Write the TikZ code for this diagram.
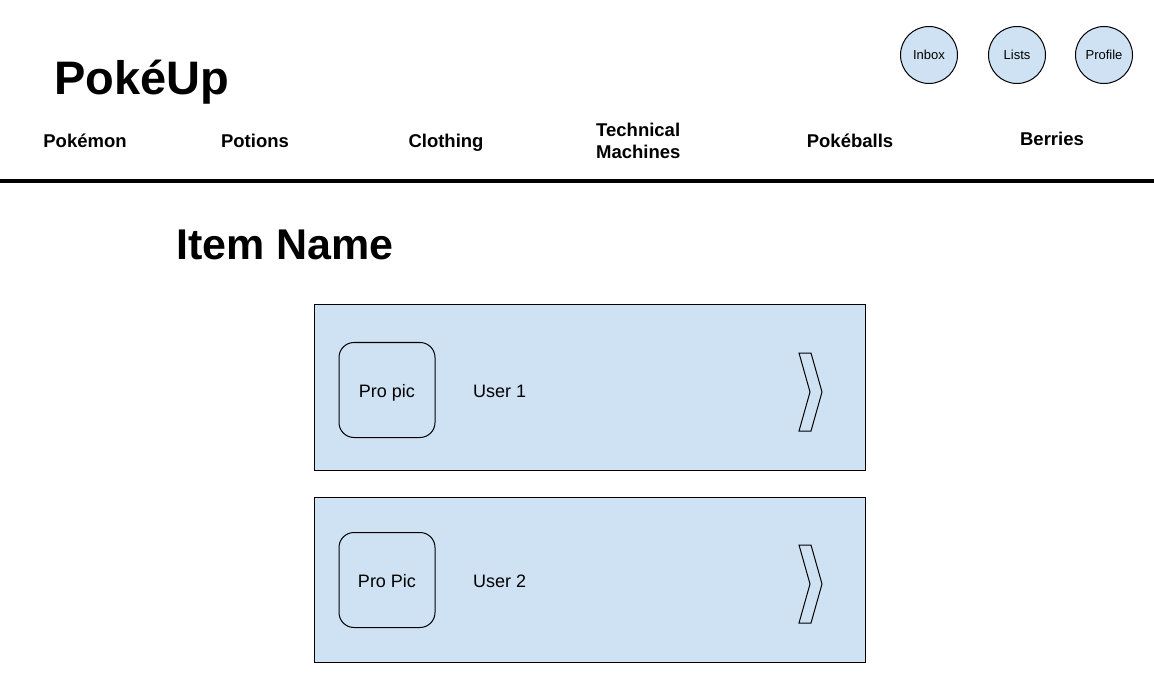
\documentclass[tikz,border=0pt]{standalone}
\usepackage{fontspec}
\setmainfont{Liberation Sans}
\definecolor{boxblue}{HTML}{CFE2F3}
\begin{document}
\begin{tikzpicture}[x=1pt,y=-1pt,
  nav/.style={font=\bfseries\fontsize{18.5}{22}\selectfont, inner sep=0pt, anchor=base},
  roundbtn/.style={circle, draw, fill=boxblue, line width=1pt, minimum size=57pt, inner sep=0pt, font=\fontsize{13}{15}\selectfont},
  card/.style={draw, fill=boxblue, line width=1pt, minimum width=551pt, minimum height=165pt, inner sep=0pt},
  picbox/.style={draw, fill=boxblue, line width=1pt, rounded corners=15pt, minimum width=96pt, minimum height=95pt, inner sep=0pt},
  label/.style={font=\fontsize{18}{22}\selectfont, inner sep=0pt},
  chev/.style={draw, line width=1pt, fill=boxblue}
]
\useasboundingbox (0,0) rectangle (1154,676);
\fill[white] (0,0) rectangle (1154,676);

% header
\node[anchor=base west, inner sep=0pt, font=\bfseries\fontsize{47}{56}\selectfont] (title) at (54,95) {PokéUp};
\node[roundbtn] (inbox) at (929,55) {Inbox};
\node[roundbtn] (lists) at (1017,55) {Lists};
\node[roundbtn] (profile) at (1104,55) {Profile};

% navigation
\node[nav] (pokemon) at (85,148) {Pokémon};
\node[nav] (potions) at (255,148) {Potions};
\node[nav] (clothing) at (446,148) {Clothing};
\node[nav, anchor=base west] (tm1) at (596,137) {Technical};
\node[nav, anchor=base west] (tm2) at (596,159) {Machines};
\node[nav] (pokeballs) at (850,148) {Pokéballs};
\node[nav] (berries) at (1052,146) {Berries};

\coordinate (lineL) at (0,181);
\coordinate (lineR) at (1154,181);
\draw[line width=3.5pt] (lineL) -- (lineR);

% item
\node[anchor=base west, inner sep=0pt, font=\bfseries\fontsize{43}{52}\selectfont] (item) at (176,260) {Item Name};

% card 1
\node[card] (card1) at (589.5,387.5) {};
\node[picbox] (pic1) at (387,390) {};
\node[label, anchor=base] (pic1text) at (pic1.center |- 0,397) {Pro pic};
\node[label, anchor=west] (user1) at (473,391) {User 1};
\coordinate (ch1) at (799,353);
\draw[chev] (ch1) -- ++(12,0) -- ++(11,39) -- ++(-11,39) -- ++(-12,0) -- ++(11,-39) -- cycle;

% card 2
\node[card] (card2) at (589.5,579.5) {};
\node[picbox] (pic2) at (387,580) {};
\node[label, anchor=base] (pic2text) at (pic2.center |- 0,587) {Pro Pic};
\node[label, anchor=west] (user2) at (473,581) {User 2};
\coordinate (ch2) at (799,545);
\draw[chev] (ch2) -- ++(12,0) -- ++(11,39) -- ++(-11,39) -- ++(-12,0) -- ++(11,-39) -- cycle;
\end{tikzpicture}
\end{document}
